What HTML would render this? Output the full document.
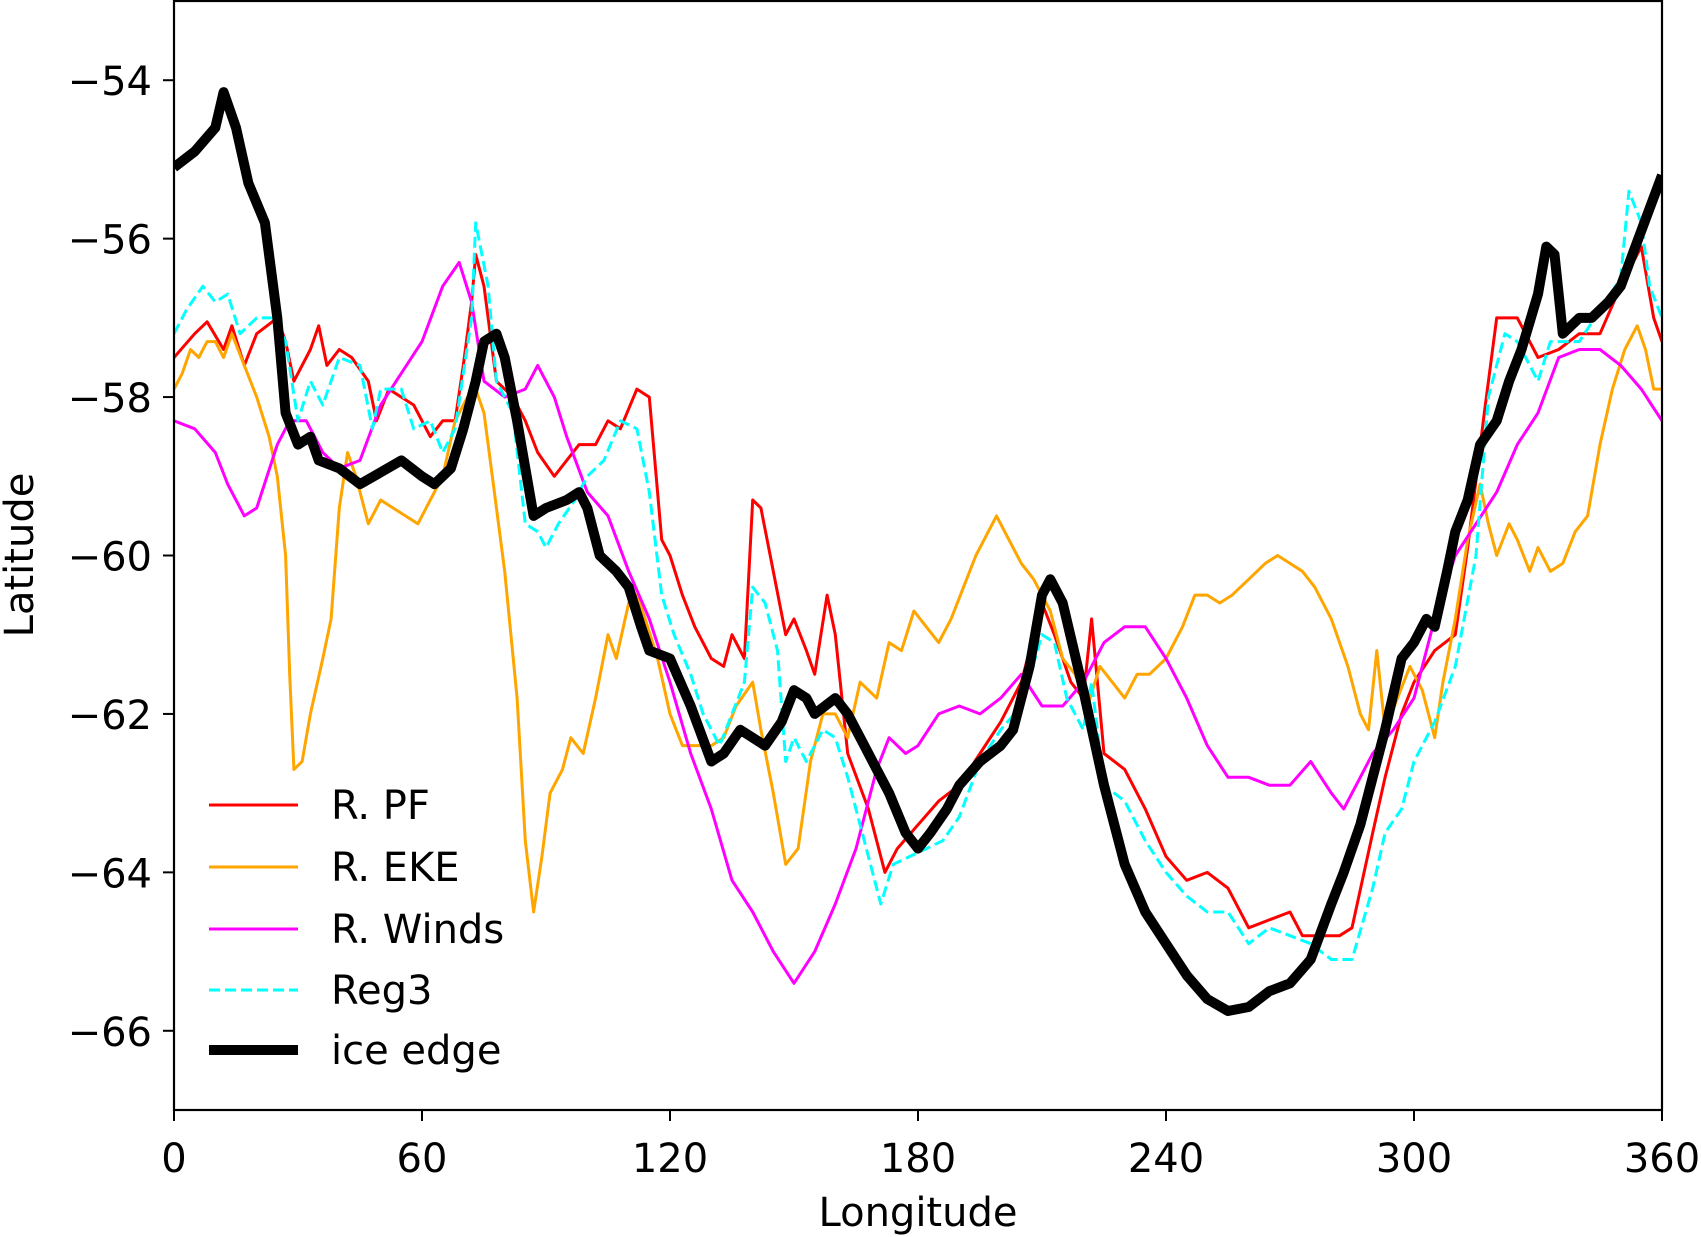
<!DOCTYPE html>
<html><head><meta charset="utf-8">
<style>
html,body{margin:0;padding:0;background:#fff;}
svg{display:block;font-family:"DejaVu Sans","Liberation Sans",sans-serif;}
</style></head>
<body>
<svg id="chart" width="1701" height="1237" viewBox="0 0 1701 1237" xmlns="http://www.w3.org/2000/svg">
<g id="plot"></g>
<g id="axes"></g>
<g id="legend"></g>
</svg>
<script>
const xTicks = [0,60,120,180,240,300,360];
const yTicks = [-54,-56,-58,-60,-62,-64,-66];
const seriesNames = ["R. PF","R. EKE","R. Winds","Reg3","ice edge"];

const pfLon = [0,5,8,12,14,17,20,25,27,29,33,35,37,40,43,47,49,52,55,58,62,65,68,70,72,73,75,78,82,85,88,92,95,98,102,105,108,112,115,118,120,123,126,130,133,135,138,140,142,145,148,150,153,155,158,160,163,168,172,175,180,185,190,195,200,205,210,213,217,220,222,225,230,235,240,245,250,255,260,265,270,273,277,282,285,290,293,297,300,305,310,313,317,320,325,330,335,340,345,350,355,358,360];
const pfLat = [-57.5,-57.2,-57.05,-57.4,-57.1,-57.6,-57.2,-57.0,-57.3,-57.8,-57.4,-57.1,-57.6,-57.4,-57.5,-57.8,-58.3,-57.9,-58.0,-58.1,-58.5,-58.3,-58.3,-57.6,-56.8,-56.2,-56.6,-57.8,-58.0,-58.3,-58.7,-59.0,-58.8,-58.6,-58.6,-58.3,-58.4,-57.9,-58.0,-59.8,-60.0,-60.5,-60.9,-61.3,-61.4,-61.0,-61.3,-59.3,-59.4,-60.2,-61.0,-60.8,-61.2,-61.5,-60.5,-61.0,-62.5,-63.2,-64.0,-63.7,-63.4,-63.1,-62.9,-62.5,-62.1,-61.6,-60.6,-61.0,-61.6,-61.8,-60.8,-62.5,-62.7,-63.2,-63.8,-64.1,-64.0,-64.2,-64.7,-64.6,-64.5,-64.8,-64.8,-64.8,-64.7,-63.5,-62.8,-62.0,-61.6,-61.2,-61.0,-59.9,-58.2,-57.0,-57.0,-57.5,-57.4,-57.2,-57.2,-56.6,-56.1,-57.0,-57.3];

const ekeLon = [0,2,4,6,8,10,12,14,17,20,23,25,27,28,29,31,33,36,38,40,42,44,47,50,53,56,59,62,65,68,71,73,75,77,80,83,85,87,89,91,94,96,99,102,105,107,110,112,114,117,120,123,126,130,133,136,140,142,145,148,151,154,157,160,163,166,170,173,176,179,182,185,188,191,194,197,199,202,205,208,212,215,218,221,224,227,230,233,236,240,244,247,250,253,256,260,264,267,270,273,276,280,284,287,289,291,293,296,299,302,305,307,310,313,316,318,320,323,325,328,330,333,336,339,342,345,348,351,354,356,358,360];
const ekeLat = [-57.9,-57.7,-57.4,-57.5,-57.3,-57.3,-57.5,-57.2,-57.6,-58.0,-58.5,-59.0,-60.0,-61.5,-62.7,-62.6,-62.0,-61.3,-60.8,-59.4,-58.7,-59.0,-59.6,-59.3,-59.4,-59.5,-59.6,-59.3,-59.0,-58.3,-58.0,-57.9,-58.2,-59.0,-60.2,-61.8,-63.6,-64.5,-63.8,-63.0,-62.7,-62.3,-62.5,-61.8,-61.0,-61.3,-60.6,-60.5,-60.8,-61.3,-62.0,-62.4,-62.4,-62.4,-62.3,-61.9,-61.6,-62.2,-63.0,-63.9,-63.7,-62.6,-62.0,-62.0,-62.3,-61.6,-61.8,-61.1,-61.2,-60.7,-60.9,-61.1,-60.8,-60.4,-60.0,-59.7,-59.5,-59.8,-60.1,-60.3,-60.7,-61.3,-61.5,-61.9,-61.4,-61.6,-61.8,-61.5,-61.5,-61.3,-60.9,-60.5,-60.5,-60.6,-60.5,-60.3,-60.1,-60.0,-60.1,-60.2,-60.4,-60.8,-61.4,-62.0,-62.2,-61.2,-62.2,-61.8,-61.4,-61.7,-62.3,-61.6,-60.8,-59.8,-59.1,-59.6,-60.0,-59.6,-59.8,-60.2,-59.9,-60.2,-60.1,-59.7,-59.5,-58.6,-57.9,-57.4,-57.1,-57.4,-57.9,-57.9];

const windLon = [0,5,10,13,17,20,25,28,32,36,40,45,50,55,60,65,69,72,75,80,85,88,92,95,100,105,110,115,120,125,130,135,140,145,150,155,160,165,170,173,177,180,185,190,195,200,205,210,215,220,225,230,235,240,245,250,255,260,265,270,275,280,283,287,290,295,300,305,310,315,320,325,330,335,340,345,350,355,360];
const windLat = [-58.3,-58.4,-58.7,-59.1,-59.5,-59.4,-58.6,-58.3,-58.3,-58.7,-58.9,-58.8,-58.1,-57.7,-57.3,-56.6,-56.3,-56.8,-57.8,-58.0,-57.9,-57.6,-58.0,-58.5,-59.2,-59.5,-60.2,-60.8,-61.6,-62.5,-63.2,-64.1,-64.5,-65.0,-65.4,-65.0,-64.4,-63.7,-62.7,-62.3,-62.5,-62.4,-62.0,-61.9,-62.0,-61.8,-61.5,-61.9,-61.9,-61.6,-61.1,-60.9,-60.9,-61.3,-61.8,-62.4,-62.8,-62.8,-62.9,-62.9,-62.6,-63.0,-63.2,-62.8,-62.5,-62.2,-61.8,-60.8,-60.0,-59.6,-59.2,-58.6,-58.2,-57.5,-57.4,-57.4,-57.6,-57.9,-58.3];

const regLon = [0,3,7,10,13,16,20,24,27,30,33,36,40,45,48,50,55,58,62,65,68,72,73,76,78,82,85,88,90,93,97,100,104,108,112,115,118,121,125,128,132,135,138,140,143,146,148,150,153,157,160,163,168,171,174,178,182,186,190,195,200,205,210,213,216,220,222,225,230,235,240,245,250,255,260,265,270,275,280,285,290,293,297,300,305,310,315,318,322,325,330,333,337,340,345,350,352,355,357,360];
const regLat = [-57.2,-56.9,-56.6,-56.8,-56.7,-57.2,-57.0,-57.0,-57.3,-58.3,-57.8,-58.1,-57.5,-57.6,-58.4,-57.9,-57.9,-58.4,-58.3,-58.7,-58.4,-57.0,-55.8,-56.6,-57.8,-58.2,-59.6,-59.7,-59.9,-59.6,-59.3,-59.0,-58.8,-58.3,-58.4,-59.2,-60.5,-61.0,-61.5,-62.0,-62.4,-62.0,-61.6,-60.4,-60.6,-61.2,-62.6,-62.3,-62.6,-62.2,-62.3,-62.8,-63.8,-64.4,-63.9,-63.8,-63.7,-63.6,-63.3,-62.6,-62.2,-61.9,-61.0,-61.1,-61.8,-62.2,-61.6,-62.9,-63.1,-63.6,-64.0,-64.3,-64.5,-64.5,-64.9,-64.7,-64.8,-64.9,-65.1,-65.1,-64.2,-63.5,-63.2,-62.6,-62.1,-61.4,-60.0,-58.0,-57.2,-57.3,-57.8,-57.3,-57.3,-57.3,-56.9,-56.5,-55.4,-55.8,-56.6,-57.0];

const iceLon = [0,5,10,12,15,18,22,25,27,30,33,35,40,45,50,55,60,63,67,70,73,75,78,80,83,87,90,95,98,100,103,107,110,113,115,120,125,130,133,137,140,143,147,150,153,155,160,163,167,170,173,177,180,183,187,190,195,200,203,207,210,212,215,220,225,230,235,240,245,250,255,260,265,270,275,280,283,287,290,293,297,300,303,305,308,310,313,316,320,323,326,330,332,334,336,340,343,347,350,355,360];
const iceLat = [-55.1,-54.9,-54.6,-54.15,-54.6,-55.3,-55.8,-57.0,-58.2,-58.6,-58.5,-58.8,-58.9,-59.1,-58.95,-58.8,-59.0,-59.1,-58.9,-58.4,-57.8,-57.3,-57.2,-57.5,-58.3,-59.5,-59.4,-59.3,-59.2,-59.4,-60.0,-60.2,-60.4,-60.9,-61.2,-61.3,-61.9,-62.6,-62.5,-62.2,-62.3,-62.4,-62.1,-61.7,-61.8,-62.0,-61.8,-62.0,-62.4,-62.7,-63.0,-63.5,-63.7,-63.5,-63.2,-62.9,-62.6,-62.4,-62.2,-61.4,-60.5,-60.3,-60.6,-61.7,-62.9,-63.9,-64.5,-64.9,-65.3,-65.6,-65.75,-65.7,-65.5,-65.4,-65.1,-64.4,-64.0,-63.4,-62.8,-62.2,-61.3,-61.1,-60.8,-60.9,-60.2,-59.7,-59.3,-58.6,-58.3,-57.8,-57.4,-56.7,-56.1,-56.2,-57.2,-57.0,-57.0,-56.8,-56.6,-55.9,-55.2];

const L=174, R=1662, T=1, B=1110;
const X0=0, X1=360, Y0=-67, Y1=-53;
function xs(v){return L+(v-X0)/(X1-X0)*(R-L);}
function ys(v){return B-(v-Y0)/(Y1-Y0)*(B-T);}
const NS="http://www.w3.org/2000/svg";
function mk(tag,attrs,parent){const e=document.createElementNS(NS,tag);for(const k in attrs)e.setAttribute(k,attrs[k]);parent.appendChild(e);return e;}

const plot=document.getElementById('plot');
const axes=document.getElementById('axes');
const legend=document.getElementById('legend');
mk('clipPath',{id:'clip'},plot);
mk('rect',{x:L,y:T,width:R-L,height:B-T},document.getElementById('clip'));

function drawLine(lon,lat,color,w,dash,name){
  const d=lon.map((v,i)=>(i?'L':'M')+xs(v).toFixed(1)+','+ys(lat[i]).toFixed(1)).join(' ');
  const p=mk('path',{d:d,fill:'none',stroke:color,'stroke-width':w,'stroke-linejoin':'round','clip-path':'url(#clip)'},plot);
  if(dash)p.setAttribute('stroke-dasharray',dash);
  
  
}
drawLine(pfLon,pfLat,'#ff0000',3,null,'series-r-pf');
drawLine(ekeLon,ekeLat,'#ffa500',3,null,'series-r-eke');
drawLine(windLon,windLat,'#ff00ff',3,null,'series-r-winds');
drawLine(regLon,regLat,'#00ffff',3,'11,5','series-reg3');
drawLine(iceLon,iceLat,'#000000',10,null,'series-ice-edge');

// frame
const fr=mk('rect',{x:L,y:T,width:R-L,height:B-T,fill:'none',stroke:'#000','stroke-width':2.2},axes);



xTicks.forEach(v=>{
  const t=mk('line',{x1:xs(v),x2:xs(v),y1:B,y2:B+11,stroke:'#000','stroke-width':2},axes);
  
  
  const tx=mk('text',{x:xs(v),y:B+62,'font-size':40,'text-anchor':'middle',fill:'#000'},axes);
  tx.textContent=String(v);
  
  
});
yTicks.forEach(v=>{
  const t=mk('line',{x1:L-11,x2:L,y1:ys(v),y2:ys(v),stroke:'#000','stroke-width':2},axes);
  
  
  const tx=mk('text',{x:L-22,y:ys(v)+15,'font-size':40,'text-anchor':'end',fill:'#000'},axes);
  tx.textContent='\u2212'+String(Math.abs(v));
  
  
});
const xl=mk('text',{x:(L+R)/2,y:1226,'font-size':40,'text-anchor':'middle',fill:'#000'},axes);
xl.textContent='Longitude';


const yl=mk('text',{x:0,y:0,'font-size':40,'text-anchor':'middle',fill:'#000',transform:'translate(33,555) rotate(-90)'},axes);
yl.textContent='Latitude';



const legColors=['#ff0000','#ffa500','#ff00ff','#00ffff','#000000'];
const legW=[3,3,3,3,10];
const legY=[805,867,929,990,1050];
seriesNames.forEach((n,i)=>{
  const g=mk('g',{},legend);
  
  
  const ln=mk('line',{x1:209,x2:298,y1:legY[i],y2:legY[i],stroke:legColors[i],'stroke-width':legW[i]},g);
  if(i===3)ln.setAttribute('stroke-dasharray','11,5');
  const t=mk('text',{x:331,y:legY[i]+14,'font-size':40,fill:'#000'},g);
  t.textContent=n;
});
</script>
</body></html>
